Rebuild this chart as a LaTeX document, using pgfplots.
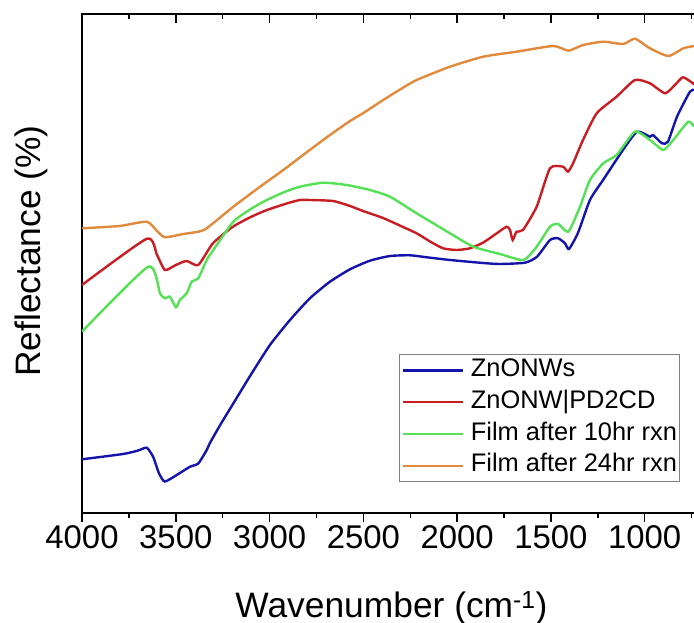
\documentclass[border=0pt]{standalone}
\usepackage{pgfplots}
\pgfplotsset{compat=1.18}
\usepackage{fontspec}
\setmainfont{Liberation Sans}
\definecolor{cblue}{RGB}{20,20,170}
\definecolor{cred}{RGB}{200,30,35}
\definecolor{cgreen}{RGB}{85,225,85}
\definecolor{corange}{RGB}{226,138,60}
\begin{document}
\begin{tikzpicture}
\pgfplotsset{
  common/.style={
    scale only axis, width=619bp, height=499bp,
    x dir=reverse, xmin=700, xmax=4000, ymin=0, ymax=499,
    xtick={1000,1500,...,4000}, minor xtick={750,1250,...,3750},
    ytick=\empty,
    major tick length=9bp, minor tick length=5bp,
    every tick/.style={black, line width=1.5bp},
    /pgf/number format/assume math mode=true,
    /pgf/number format/1000 sep={},
  }
}
\begin{axis}[common, name=ax,
  axis line style={line width=1.6bp},
  xtick pos=left, tick align=outside,
  tick label style={font=\fontsize{33}{40}\selectfont},
  xlabel={Wavenumber (cm\textsuperscript{-1})},
  ylabel={Reflectance (\%)},
  label style={font=\fontsize{35.5}{42}\selectfont},
  xlabel style={at={(axis description cs:0.5,0)}, anchor=base, yshift=-104bp},
  ylabel style={at={(axis description cs:-0.082,0.525)}, anchor=center},
  legend cell align=left,
  legend image code/.code={\draw[#1, line width=2.1bp] (0bp,0bp) -- (60bp,0bp);},
  legend style={at={(axis description cs:0.966,0.0627)}, anchor=south east,
    font=\fontsize{25.5}{25.5}\selectfont, draw=gray, line width=0.8bp,
    inner xsep=2.5bp, inner ysep=2bp, row sep=4.2bp, column sep=7bp,
    nodes={inner sep=0pt, text height=20bp, text depth=7.5bp}},
  every axis plot/.append style={line width=2.4bp, smooth, tension=0.35},
]
\addplot[cblue] coordinates {(4000,53.7)(3781,59)(3700,62.5)(3655,65.3)(3621,56.3)(3590,40)(3558,31.5)(3478,40)(3424,46.3)(3380,49.5)(3335,63)(3318,70)(3260,89)(3195,109)(3104,137)(2998,168)(2891,193)(2785,214.7)(2678,231.3)(2571,243.7)(2465,252.3)(2358,257)(2251,257.7)(2162,255.7)(2038,253)(1862,250)(1772,249)(1638,250.3)(1574,256.3)(1505,273)(1462,274.7)(1425,269.7)(1404,264)(1356,280)(1292,313)(1222,333)(1116,363)(1041,381.3)(972,376.3)(956,378)(908,369.7)(876,371.3)(828,396.3)(759,421.3)(737,423)};
\addlegendentry{ZnONWs}
\addplot[cred] coordinates {(4000,228)(3655,274.2)(3600,258)(3558,243)(3500,248)(3442,252)(3380,248)(3302,269.7)(3195,286.3)(3100,296)(3014,303)(2900,310)(2838,313)(2785,313)(2662,312)(2571,307)(2502,302)(2395,295)(2300,287)(2216,279.7)(2140,271)(2075,264.7)(2002,263)(1932,264.7)(1862,270.3)(1789,279.7)(1736,286.3)(1718,283)(1704,273)(1683,281.3)(1649,283)(1576,306.3)(1505,344.7)(1436,346.3)(1409,341.3)(1382,349.7)(1329,373)(1256,399.7)(1150,416.3)(1052,433)(972,429.7)(892,419.7)(839,428)(796,435.7)(743,429.7)(737,428)};
\addlegendentry{ZnONW|PD2CD}
\addplot[cgreen] coordinates {(4000,181.3)(3647,246.3)(3584,219.7)(3558,214.7)(3531,216.3)(3499,205.7)(3478,213)(3442,219.7)(3415,231.3)(3380,234.7)(3335,253)(3300,263)(3193,291.3)(3100,304)(3015,313)(2920,321)(2838,326.3)(2714,330.3)(2589,328)(2465,323)(2358,316.3)(2216,299.7)(2038,279.7)(1914,266.3)(1772,259)(1647,253)(1576,266.3)(1505,286.3)(1461,289)(1407,281.3)(1345,306.3)(1292,333)(1221,349.7)(1150,358)(1052,381.3)(972,373)(901,363)(848,373)(768,391.3)(737,386.3)};
\addlegendentry{Film after 10hr rxn}
\addplot[corange] coordinates {(4000,284.7)(3800,287)(3655,291.3)(3600,282)(3558,275.7)(3460,279)(3380,281.3)(3335,284.7)(3193,306.3)(3060,325)(2927,343)(2800,361)(2678,378)(2571,392)(2500,400)(2394,413)(2300,424)(2216,433)(2038,446.3)(1861,456.3)(1683,461.3)(1487,467)(1407,462.3)(1328,468)(1221,471.3)(1114,469)(1052,474.3)(972,464.7)(874,457)(794,464.7)(737,467)};
\addlegendentry{Film after 24hr rxn}
\end{axis}
\begin{axis}[common,
  axis line style={draw=none},
  xtick pos=right, tick align=inside,
  xticklabels={},
]
\end{axis}
\pgfresetboundingbox
\path[use as bounding box] ([xshift=-82bp,yshift=-110bp]ax.south west) rectangle ([xshift=612bp,yshift=14bp]ax.north west);
\end{tikzpicture}
\end{document}
